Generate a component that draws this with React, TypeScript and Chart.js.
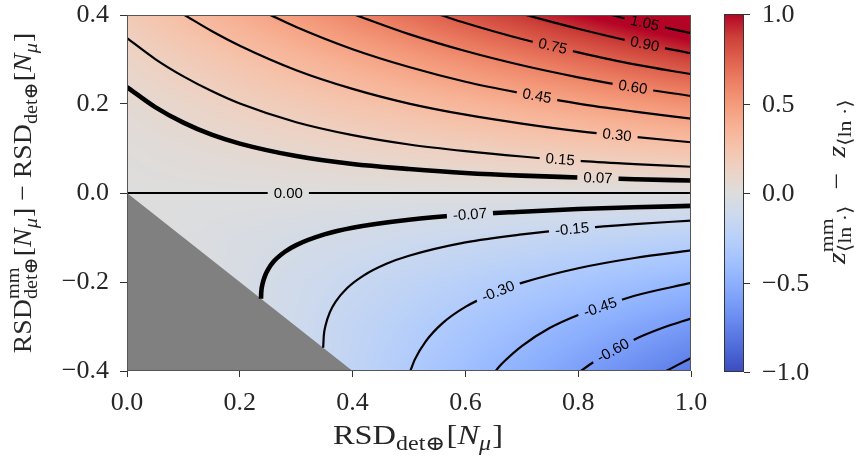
import React, { useEffect, useRef } from 'react';
import { Chart, registerables } from 'chart.js';

Chart.register(...registerables);

// ---------- tick values ----------
const X_TICKS = [0, 0.2, 0.4, 0.6, 0.8, 1.0];
const Y_TICKS = [-0.4, -0.2, 0, 0.2, 0.4];
const CB_TICKS = [1.0, 0.5, 0.0, -0.5, -1.0];

// ---------- background field (z^mm - z), read on a 0.1 grid ----------
const GRID_X = [0, 0.1, 0.2, 0.3, 0.4, 0.5, 0.6, 0.7, 0.8, 0.9, 1.0];
const GRID_Y = [0.4, 0.3, 0.2, 0.1, 0.0, -0.1, -0.2, -0.3, -0.4];
const Z_Y_P04 = [0.198, 0.298, 0.397, 0.496, 0.595, 0.694, 0.794, 0.893, 0.992, 1.091, 1.19];
const Z_Y_P03 = [0.112, 0.186, 0.26, 0.335, 0.409, 0.484, 0.558, 0.632, 0.707, 0.781, 0.856];
const Z_Y_P02 = [0.05, 0.099, 0.149, 0.198, 0.248, 0.298, 0.347, 0.397, 0.446, 0.496, 0.546];
const Z_Y_P01 = [0.012, 0.037, 0.062, 0.087, 0.112, 0.136, 0.161, 0.186, 0.211, 0.236, 0.26];
const Z_Y_000 = [0, 0, 0, 0, 0, 0, 0, 0, 0, 0, 0];
const Z_Y_M01 = [0.012, -0.012, -0.037, -0.062, -0.087, -0.112, -0.136, -0.161, -0.186, -0.211, -0.236];
const Z_Y_M02 = [0.05, 0.0, -0.05, -0.099, -0.149, -0.198, -0.248, -0.298, -0.347, -0.397, -0.446];
const Z_Y_M03 = [0.112, 0.037, -0.037, -0.112, -0.186, -0.26, -0.335, -0.409, -0.484, -0.558, -0.632];
const Z_Y_M04 = [0.198, 0.099, 0.0, -0.099, -0.198, -0.298, -0.397, -0.496, -0.595, -0.694, -0.794];
const Z_ROWS = [Z_Y_P04, Z_Y_P03, Z_Y_P02, Z_Y_P01, Z_Y_000, Z_Y_M01, Z_Y_M02, Z_Y_M03, Z_Y_M04];

// ---------- excluded (grey) region edge: RSD^mm < 0 ----------
const GREY_EDGE = [[0, 0], [0.4, -0.4]];

// ---------- contour lines [x, y] ----------
const C_P105 = [[0.859, 0.4], [0.9, 0.387], [0.95, 0.373], [1.0, 0.359]];
const C_P090 = [[0.707, 0.4], [0.8, 0.369], [0.9, 0.339], [1.0, 0.314]];
const C_P075 = [[0.556, 0.4], [0.6, 0.382], [0.7, 0.346], [0.8, 0.316], [0.9, 0.289], [1.0, 0.267]];
const C_P060 = [[0.405, 0.4], [0.5, 0.357], [0.6, 0.319], [0.7, 0.287], [0.8, 0.26], [0.9, 0.237], [1.0, 0.218]];
const C_P045 = [[0.254, 0.4], [0.3, 0.373], [0.4, 0.323], [0.5, 0.283], [0.6, 0.25], [0.7, 0.224], [0.8, 0.201], [0.9, 0.183], [1.0, 0.167]];
const C_P030 = [[0.102, 0.4], [0.15, 0.364], [0.2, 0.331], [0.3, 0.276], [0.4, 0.234], [0.5, 0.201], [0.6, 0.176], [0.7, 0.156], [0.8, 0.139], [0.9, 0.126], [1.0, 0.114]];
const C_P015 = [[0, 0.348], [0.05, 0.301], [0.1, 0.262], [0.15, 0.229], [0.2, 0.201], [0.3, 0.159], [0.4, 0.13], [0.5, 0.109], [0.6, 0.094], [0.7, 0.082], [0.8, 0.072], [0.9, 0.065], [1.0, 0.059]];
const C_P007 = [[0, 0.238], [0.05, 0.193], [0.1, 0.158], [0.15, 0.131], [0.2, 0.111], [0.3, 0.083], [0.4, 0.065], [0.5, 0.054], [0.6, 0.045], [0.7, 0.039], [0.8, 0.035], [0.9, 0.031], [1.0, 0.028]];
const C_000 = [[0, 0], [0.5, 0], [1.0, 0]];
const C_M007 = [[0.2376, -0.2376], [0.238, -0.224], [0.24, -0.206], [0.245, -0.185], [0.25, -0.172], [0.26, -0.154], [0.28, -0.132], [0.3, -0.117], [0.35, -0.093], [0.4, -0.078], [0.5, -0.06], [0.6, -0.049], [0.7, -0.042], [0.8, -0.036], [0.9, -0.032], [1.0, -0.029]];
const C_M015 = [[0.3478, -0.3478], [0.349, -0.32], [0.352, -0.298], [0.36, -0.267], [0.37, -0.244], [0.39, -0.214], [0.42, -0.185], [0.46, -0.159], [0.5, -0.141], [0.6, -0.111], [0.7, -0.093], [0.8, -0.08], [0.9, -0.07], [1.0, -0.062]];
const C_M030 = [[0.5024, -0.4], [0.51, -0.375], [0.53, -0.333], [0.56, -0.292], [0.6, -0.256], [0.65, -0.225], [0.7, -0.202], [0.8, -0.169], [0.9, -0.146], [1.0, -0.129]];
const C_M045 = [[0.6536, -0.4], [0.66, -0.39], [0.67, -0.377], [0.7, -0.344], [0.75, -0.303], [0.8, -0.274], [0.9, -0.231], [1.0, -0.202]];
const C_M060 = [[0.8048, -0.4], [0.82, -0.386], [0.85, -0.362], [0.9, -0.329], [0.95, -0.303], [1.0, -0.282]];
const C_M075 = [[0.9561, -0.4], [0.98, -0.384], [1.0, -0.371]];

const LEVELS = [1.05, 0.9, 0.75, 0.6, 0.45, 0.3, 0.15, 0.07, 0.0, -0.07, -0.15, -0.3, -0.45, -0.6, -0.75];
const LEVEL_LINES = [C_P105, C_P090, C_P075, C_P060, C_P045, C_P030, C_P015, C_P007, C_000, C_M007, C_M015, C_M030, C_M045, C_M060, C_M075];
// x position of the inline label on each line (null = no label)
const LABEL_X = [0.918, 0.918, 0.755, 0.897, 0.727, 0.869, 0.768, 0.835, 0.286, 0.608, 0.789, 0.658, 0.839, 0.862, null];
const THICK_LEVELS = [0.07, -0.07];

// ---------- coolwarm colormap stops ----------
const CMAP = [
  [59, 76, 192], [77, 104, 215], [98, 130, 234], [119, 154, 247], [141, 176, 254],
  [163, 194, 255], [184, 208, 249], [204, 217, 238], [221, 221, 221], [236, 211, 197],
  [245, 196, 173], [247, 177, 148], [244, 154, 123], [236, 127, 99], [222, 96, 77],
  [203, 62, 56], [180, 4, 38],
];
const Z_MIN = -1;
const Z_MAX = 1;

const SERIF = '"Liberation Serif", "DejaVu Serif", serif';
const SANS = '"Liberation Sans", Arial, sans-serif';
const TEXT_COLOR = '#262626';
const AREA = { left: 127, top: 15, right: 691, bottom: 371 };

function cmap(z: number): number[] {
  let f = (z - Z_MIN) / (Z_MAX - Z_MIN);
  f = Math.max(0, Math.min(1, f));
  const p = f * (CMAP.length - 1);
  const i = Math.min(CMAP.length - 2, Math.floor(p));
  const t = p - i;
  const a = CMAP[i], b = CMAP[i + 1];
  return [a[0] + (b[0] - a[0]) * t, a[1] + (b[1] - a[1]) * t, a[2] + (b[2] - a[2]) * t];
}

function fieldAt(x: number, y: number): number {
  const nx = GRID_X.length, ny = GRID_Y.length;
  let fx = ((x - GRID_X[0]) / (GRID_X[nx - 1] - GRID_X[0])) * (nx - 1);
  let fy = ((y - GRID_Y[0]) / (GRID_Y[ny - 1] - GRID_Y[0])) * (ny - 1);
  fx = Math.max(0, Math.min(nx - 1, fx));
  fy = Math.max(0, Math.min(ny - 1, fy));
  const i = Math.min(nx - 2, Math.floor(fx));
  const j = Math.min(ny - 2, Math.floor(fy));
  const tx = fx - i, ty = fy - j;
  const z00 = Z_ROWS[j][i], z10 = Z_ROWS[j][i + 1], z01 = Z_ROWS[j + 1][i], z11 = Z_ROWS[j + 1][i + 1];
  return (z00 * (1 - tx) + z10 * tx) * (1 - ty) + (z01 * (1 - tx) + z11 * tx) * ty;
}

function interpLine(pts: number[][], x: number): number {
  if (x <= pts[0][0]) return pts[0][1];
  for (let k = 1; k < pts.length; k++) {
    if (x <= pts[k][0]) {
      const t = (x - pts[k - 1][0]) / (pts[k][0] - pts[k - 1][0]);
      return pts[k - 1][1] + (pts[k][1] - pts[k - 1][1]) * t;
    }
  }
  return pts[pts.length - 1][1];
}

function fmt(v: number, d: number): string {
  const s = (Math.abs(v) < 1e-9 ? 0 : v).toFixed(d);
  return s.replace('-', '\u2212');
}

function buildHeat(chart: any): HTMLCanvasElement {
  const ca = chart.chartArea;
  const w = Math.round(ca.right - ca.left);
  const h = Math.round(ca.bottom - ca.top);
  const cv = document.createElement('canvas');
  cv.width = w;
  cv.height = h;
  const c2 = cv.getContext('2d')!;
  const img = c2.createImageData(w, h);
  const xs = chart.scales.x, ys = chart.scales.y;
  for (let j = 0; j < h; j++) {
    const yv = ys.getValueForPixel(ca.top + j + 0.5);
    for (let i = 0; i < w; i++) {
      const xv = xs.getValueForPixel(ca.left + i + 0.5);
      const c = cmap(fieldAt(xv, yv));
      const o = (j * w + i) * 4;
      img.data[o] = c[0];
      img.data[o + 1] = c[1];
      img.data[o + 2] = c[2];
      img.data[o + 3] = 255;
    }
  }
  c2.putImageData(img, 0, 0);
  return cv;
}

function getHeat(chart: any): HTMLCanvasElement {
  const ca = chart.chartArea;
  const key = `${ca.left},${ca.top},${ca.right},${ca.bottom}`;
  if (!chart.$heat || chart.$heatKey !== key) {
    chart.$heat = buildHeat(chart);
    chart.$heatKey = key;
  }
  return chart.$heat;
}

type Seg = { t?: string; it?: boolean; sup?: string; sub?: string; subIt?: boolean };

function drawRich(ctx: CanvasRenderingContext2D, segs: Seg[], x: number, y: number, rot: number,
  mainSize: number, scrSize: number, supOff: number, subOff: number, stretch: number) {
  const fm = (it?: boolean) => `${it ? 'italic ' : ''}${mainSize}px ${SERIF}`;
  const fs = (it?: boolean) => `${it ? 'italic ' : ''}${scrSize}px ${SERIF}`;
  ctx.save();
  ctx.translate(x, y);
  ctx.rotate(rot);
  ctx.scale(stretch, 1);
  ctx.fillStyle = TEXT_COLOR;
  ctx.textAlign = 'left';
  ctx.textBaseline = 'alphabetic';
  const widths = segs.map((s) => {
    if (s.t !== undefined) { ctx.font = fm(s.it); return ctx.measureText(s.t).width; }
    let w = 0;
    if (s.sup) { ctx.font = fs(false); w = Math.max(w, ctx.measureText(s.sup).width); }
    if (s.sub) { ctx.font = fs(s.subIt); w = Math.max(w, ctx.measureText(s.sub).width); }
    return w + 1;
  });
  const total = widths.reduce((a, b) => a + b, 0);
  let cx = -total / 2;
  segs.forEach((s, i) => {
    if (s.t !== undefined) {
      ctx.font = fm(s.it);
      ctx.fillText(s.t, cx, 0);
    } else {
      if (s.sup) { ctx.font = fs(false); ctx.fillText(s.sup, cx, supOff); }
      if (s.sub) { ctx.font = fs(s.subIt); ctx.fillText(s.sub, cx, subOff); }
    }
    cx += widths[i];
  });
  ctx.restore();
}

const MINUS_WIDE = '\u2002\u2212\u2002';
const X_TITLE: Seg[] = [{ t: 'RSD' }, { sub: 'det\u2295' }, { t: '[' }, { t: 'N', it: true }, { sub: '\u03bc', subIt: true }, { t: ']' }];
const Y_TITLE: Seg[] = [
  { t: 'RSD' }, { sup: 'mm', sub: 'det\u2295' }, { t: '[' }, { t: 'N', it: true }, { sub: '\u03bc', subIt: true }, { t: ']' },
  { t: ' \u2212 ' },
  { t: 'RSD' }, { sub: 'det\u2295' }, { t: '[' }, { t: 'N', it: true }, { sub: '\u03bc', subIt: true }, { t: ']' },
];
const CB_TITLE: Seg[] = [
  { t: 'z', it: true }, { sup: 'mm', sub: '\u27e8ln \u00b7\u27e9' }, { t: MINUS_WIDE }, { t: 'z', it: true }, { sub: '\u27e8ln \u00b7\u27e9' },
];

const contourPlugin = {
  id: 'contourExtras',
  beforeDatasetsDraw(chart: any) {
    const ca = chart.chartArea;
    chart.ctx.drawImage(getHeat(chart), ca.left, ca.top);
  },
  afterDatasetsDraw(chart: any) {
    const ctx: CanvasRenderingContext2D = chart.ctx;
    const ca = chart.chartArea;
    const xs = chart.scales.x, ys = chart.scales.y;
    const heat = getHeat(chart);
    const lf = `15px ${SANS}`;
    LEVELS.forEach((lev, k) => {
      const lx = LABEL_X[k];
      if (lx === null || lx === undefined) return;
      const pts = LEVEL_LINES[k];
      const X = xs.getPixelForValue(lx), Y = ys.getPixelForValue(interpLine(pts, lx));
      const d = 0.02;
      const X1 = xs.getPixelForValue(lx - d), Y1 = ys.getPixelForValue(interpLine(pts, lx - d));
      const X2 = xs.getPixelForValue(lx + d), Y2 = ys.getPixelForValue(interpLine(pts, lx + d));
      const ang = Math.atan2(Y2 - Y1, X2 - X1);
      const text = lev.toFixed(2);
      ctx.font = lf;
      const tw = ctx.measureText(text).width;
      const gw = tw + 12, gh = 12;
      ctx.save();
      const base = ctx.getTransform();
      ctx.translate(X, Y);
      ctx.rotate(ang);
      ctx.beginPath();
      ctx.rect(-gw / 2, -gh / 2, gw, gh);
      ctx.clip();
      ctx.setTransform(base);
      ctx.drawImage(heat, ca.left, ca.top);
      ctx.restore();
      ctx.save();
      ctx.translate(X, Y);
      ctx.rotate(ang);
      ctx.font = lf;
      ctx.fillStyle = '#000';
      ctx.textAlign = 'center';
      ctx.textBaseline = 'middle';
      ctx.fillText(text, 0, 0.5);
      ctx.restore();
    });
  },
  afterDraw(chart: any) {
    const ctx: CanvasRenderingContext2D = chart.ctx;
    const ca = chart.chartArea;
    // frame
    ctx.save();
    ctx.strokeStyle = '#555';
    ctx.lineWidth = 1;
    ctx.strokeRect(ca.left + 0.5, ca.top + 0.5, ca.right - ca.left - 1, ca.bottom - ca.top - 1);
    ctx.restore();

    // colorbar
    const cbL = ca.right + 33, cbW = 20;
    const cbT = ca.top - 1, cbB = ca.bottom + 1;
    const vToY = (v: number) => cbB - ((v - Z_MIN) / (Z_MAX - Z_MIN)) * (cbB - cbT);
    ctx.save();
    const g = ctx.createLinearGradient(0, cbB, 0, cbT);
    CMAP.forEach((c, i) => g.addColorStop(i / (CMAP.length - 1), `rgb(${c[0]},${c[1]},${c[2]})`));
    ctx.fillStyle = g;
    ctx.fillRect(cbL, cbT, cbW, cbB - cbT);
    ctx.strokeStyle = '#333';
    ctx.lineWidth = 1;
    ctx.strokeRect(cbL + 0.5, cbT + 0.5, cbW - 1, cbB - cbT - 1);
    ctx.font = `26px ${SERIF}`;
    ctx.fillStyle = TEXT_COLOR;
    ctx.textAlign = 'left';
    ctx.textBaseline = 'middle';
    CB_TICKS.forEach((v) => {
      const yy = Math.round(vToY(v)) + 0.5;
      ctx.beginPath();
      ctx.moveTo(cbL + cbW, yy);
      ctx.lineTo(cbL + cbW + 6, yy);
      ctx.stroke();
      ctx.fillText(fmt(v, 1), cbL + cbW + 18, yy + 1);
    });
    ctx.restore();

    // axis titles
    drawRich(ctx, X_TITLE, (ca.left + ca.right) / 2 + 9, 444, 0, 27, 20, -12, 6, 1.2);
    drawRich(ctx, Y_TITLE, 31, (ca.top + ca.bottom) / 2, -Math.PI / 2, 26, 19, -12, 6, 1.07);
    drawRich(ctx, CB_TITLE, 845, 181, -Math.PI / 2, 26, 19, -12, 6, 1.15);
  },
};

export default function App() {
  const ref = useRef<HTMLCanvasElement | null>(null);
  useEffect(() => {
    if (!ref.current) return;
    const lineSets = LEVELS.map((lev, k) => ({
      label: lev.toFixed(2),
      data: LEVEL_LINES[k].map((p) => ({ x: p[0], y: p[1] })),
      borderColor: '#000',
      borderWidth: THICK_LEVELS.includes(lev) ? 4.6 : 2.2,
      pointRadius: 0,
      fill: false,
      cubicInterpolationMode: 'monotone' as const,
      order: 0,
    }));
    const greySet = {
      label: 'excluded',
      data: GREY_EDGE.map((p) => ({ x: p[0], y: p[1] })),
      borderWidth: 0,
      borderColor: 'rgba(0,0,0,0)',
      backgroundColor: '#808080',
      pointRadius: 0,
      fill: 'start' as const,
      order: 1,
    };
    const tickFont = { family: SERIF, size: 26 };
    const chart: any = new Chart(ref.current, {
      type: 'line',
      data: { datasets: [greySet as any, ...lineSets] },
      options: {
        animation: false,
        responsive: false,
        maintainAspectRatio: false,
        layout: { padding: { left: 0, top: AREA.top, right: 864 - AREA.right, bottom: 0 } },
        plugins: { legend: { display: false }, tooltip: { enabled: false } },
        scales: {
          x: {
            type: 'linear',
            min: 0,
            max: 1,
            afterFit: (s: any) => {
              s.height = 459 - AREA.bottom;
              s.paddingLeft = 0; s.paddingRight = 0; s.paddingTop = 0; s.paddingBottom = 0;
            },
            afterBuildTicks: (s: any) => { s.ticks = X_TICKS.map((v) => ({ value: v })); },
            ticks: { callback: (v: any) => fmt(Number(v), 1), font: tickFont, color: TEXT_COLOR, padding: 11, autoSkip: false, maxRotation: 0 },
            grid: { drawOnChartArea: false, tickLength: 6, tickColor: '#333', tickWidth: 1 },
            border: { display: false },
          },
          y: {
            type: 'linear',
            min: -0.4,
            max: 0.4,
            afterFit: (s: any) => {
              s.width = AREA.left;
              s.paddingLeft = 0; s.paddingRight = 0; s.paddingTop = 0; s.paddingBottom = 0;
            },
            afterBuildTicks: (s: any) => { s.ticks = Y_TICKS.map((v) => ({ value: v })); },
            ticks: { callback: (v: any) => fmt(Number(v), 1), font: tickFont, color: TEXT_COLOR, padding: 11, autoSkip: false },
            grid: { drawOnChartArea: false, tickLength: 7, tickColor: '#333', tickWidth: 1 },
            border: { display: false },
          },
        },
      },
      plugins: [contourPlugin],
    } as any);
    return () => chart.destroy();
  }, []);
  return (
    <div style={{ position: 'fixed', left: 0, top: 0, width: 864, height: 459, background: '#fff' }}>
      <canvas ref={ref} width={864} height={459} style={{ display: 'block', width: 864, height: 459 }} />
    </div>
  );
}
